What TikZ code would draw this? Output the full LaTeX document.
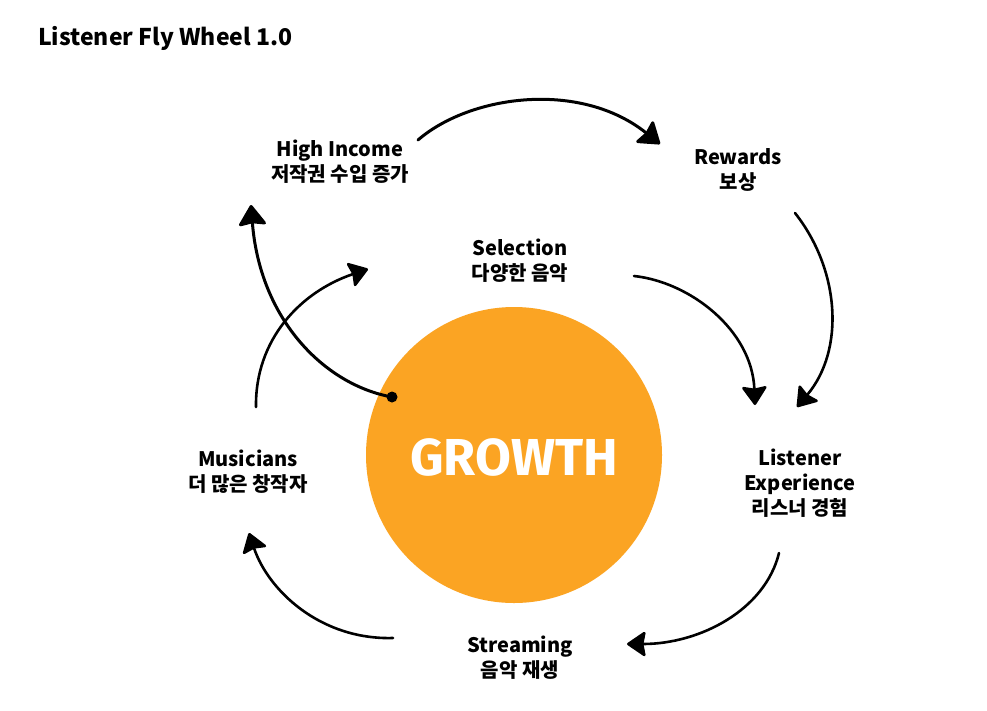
\documentclass[tikz,border=0pt]{standalone}
\usepackage{fontspec}
\setmainfont{Noto Sans CJK KR}
\newfontfamily\growthfont{Fira Sans}
\usetikzlibrary{arrows.meta}
\definecolor{growthorange}{HTML}{FBA423}
\begin{document}
\begin{tikzpicture}[x=1pt,y=-1pt,
  lbl/.style={align=center,font=\fontsize{20}{25}\selectfont\bfseries,inner sep=0pt},
  flow/.style={line width=3pt,line cap=round,-{Stealth[length=22pt,width=30pt,inset=2.5pt,round]}},
  thinflow/.style={line width=2.6pt,line cap=round,-{Stealth[length=20pt,width=27pt,inset=2.5pt,round]}}]
\fill[white] (0,0) rectangle (987,710);
\path[use as bounding box] (0,0) rectangle (987,710);
% title
\node[anchor=west,font=\fontsize{23}{27}\selectfont\bfseries,inner sep=0pt] (title) at (38,38) {Listener Fly Wheel 1.0};
% central circle
\node[circle,fill=growthorange,minimum size=296pt,inner sep=0pt] (growth) at (514,455) {};
\node[text=white,font=\growthfont\fontsize{52}{52}\selectfont\bfseries,inner sep=0pt] (growthtxt) at (514,457) {GROWTH};
% labels
\node[lbl] (income) at (340,161.5) {High Income\\저작권 수입 증가};
\node[lbl] (rewards) at (738,170) {Rewards\\보상};
\node[lbl] (selection) at (520,260.5) {Selection\\다양한 음악};
\node[lbl] (listener) at (800,483.5) {Listener\\Experience\\리스너 경험};
\node[lbl] (musicians) at (248,471.5) {Musicians\\더 많은 창작자};
\node[lbl] (streaming) at (520,657.5) {Streaming\\음악 재생};
% arrow end points
\coordinate (a1s) at (418,140);
\coordinate (a1e) at (660,144);
\coordinate (a2s) at (795,213);
\coordinate (a2e) at (797,407);
\coordinate (a3s) at (634,276);
\coordinate (a3e) at (755,405);
\coordinate (a4s) at (779,553);
\coordinate (a4e) at (627,644);
\coordinate (a5s) at (393,638);
\coordinate (a5e) at (249,533);
\coordinate (a6s) at (256,407);
\coordinate (a6e) at (368,269);
\coordinate (dot) at (392,397);
\coordinate (a7e) at (251,205);
% arrows
\draw[flow] (a1s) .. controls (470,95) and (580,80) .. (a1e);
\draw[thinflow] (a2s) .. controls (840,270) and (845,350) .. (a2e);
\draw[thinflow] (a3s) .. controls (690,282) and (752,330) .. (a3e);
\draw[thinflow] (a4s) .. controls (765,610) and (700,644) .. (a4e);
\draw[thinflow] (a5s) .. controls (320,640) and (268,590) .. (a5e);
\draw[thinflow] (a6s) .. controls (255,340) and (300,292) .. (a6e);
\draw[flow] (dot) .. controls (325,385) and (260,320) .. (a7e);
\fill (dot) circle (5.5pt);
\end{tikzpicture}
\end{document}
